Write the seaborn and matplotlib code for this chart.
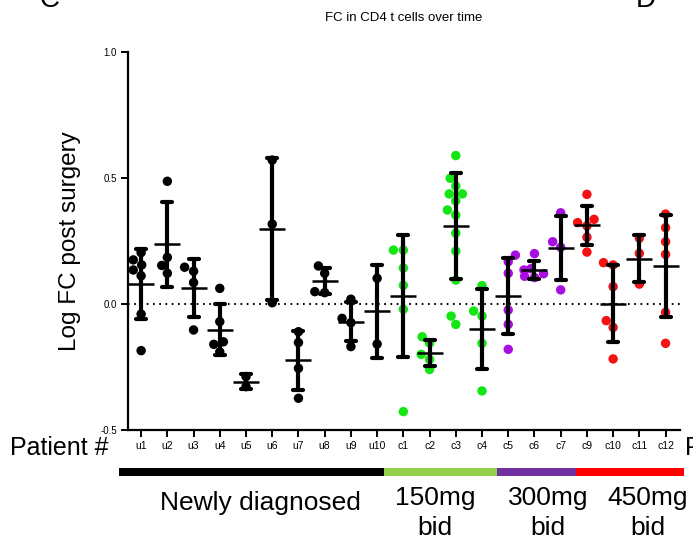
import matplotlib
matplotlib.use("Agg")
import matplotlib.pyplot as plt
from matplotlib.patches import Rectangle
import numpy as np
import pandas as pd
import seaborn as sns

# ---------------- data ----------------
patients = ["u1", "u2", "u3", "u4", "u5", "u6", "u7", "u8", "u9", "u10",
            "c1", "c2", "c3", "c4", "c5", "c6", "c7", "c9", "c10", "c11", "c12"]

newly_diagnosed_fc = [
    [0.204, 0.175, 0.155, 0.135, 0.112, -0.040, -0.185],   # u1
    [0.487, 0.185, 0.153, 0.122],                          # u2
    [0.146, 0.130, 0.085, -0.103],                         # u3
    [0.062, -0.070, -0.150, -0.160, -0.190],               # u4
    [-0.288, -0.328],                                      # u5
    [0.571, 0.317, 0.005],                                 # u6
    [-0.110, -0.153, -0.255, -0.374],                      # u7
    [0.151, 0.122, 0.045, 0.049],                          # u8
    [0.019, -0.057, -0.074, -0.169],                       # u9
    [0.102, -0.159],                                       # u10
]
bid150_fc = [
    [0.214, 0.214, 0.143, 0.074, -0.021, -0.427],          # c1
    [-0.130, -0.155, -0.200, -0.220, -0.260],              # c2
    [0.589, 0.499, 0.468, 0.437, 0.437, 0.409, 0.373,
     0.353, 0.281, 0.210, 0.095, -0.048, -0.081],          # c3
    [0.073, -0.028, -0.048, -0.156, -0.345],               # c4
]
bid300_fc = [
    [0.194, 0.168, 0.122, -0.024, -0.081, -0.180],         # c5
    [0.200, 0.140, 0.135, 0.120, 0.110, 0.105],            # c6
    [0.362, 0.247, 0.225, 0.056],                          # c7
]
bid450_fc = [
    [0.435, 0.336, 0.323, 0.310, 0.265, 0.206],            # c9
    [0.164, 0.155, 0.069, -0.066, -0.093, -0.218],         # c10
    [0.261, 0.201, 0.079],                                 # c11
    [0.357, 0.303, 0.247, 0.197, -0.033, -0.156],          # c12
]

group_names = ["Newly diagnosed", "150mg\nbid", "300mg\nbid", "450mg\nbid"]
point_colors = ["#000000", "#14e614", "#a80ee0", "#f51212"]
bar_colors = ["#000000", "#92d050", "#7030a0", "#ff0000"]
y_ticks = [-0.5, 0.0, 0.5, 1.0]
y_ticklabels = ["-0.5", "0.0", "0.5", "1.0"]

# ---------------- tidy frame ----------------
rows = []
all_groups = [newly_diagnosed_fc, bid150_fc, bid300_fc, bid450_fc]
i = 0
for gname, glist in zip(group_names, all_groups):
    for vals in glist:
        for v in vals:
            rows.append({"patient": patients[i], "fc": v, "group": gname})
        i += 1
df = pd.DataFrame(rows)
palette = dict(zip(group_names, point_colors))

# ---------------- figure ----------------
sns.set_theme(style="ticks")
plt.rcParams["font.family"] = ["Liberation Sans", "DejaVu Sans"]
plt.rcParams["text.color"] = "black"
plt.rcParams["axes.labelcolor"] = "black"
plt.rcParams["xtick.color"] = "black"
plt.rcParams["ytick.color"] = "black"

W, H = 693, 549
fig = plt.figure(figsize=(W / 100, H / 100), dpi=100)
ax = fig.add_axes([128 / W, 1 - 430 / H, (680 - 128) / W, (430 - 52) / H])

ax.axhline(0, color="black", lw=1.5, ls=(0, (0.8, 2.2)), zorder=0)

sns.swarmplot(data=df, x="patient", y="fc", hue="group", palette=palette,
              order=patients, size=6.8, ax=ax, legend=False, zorder=2,
              linewidth=0, warn_thresh=1)
sns.pointplot(data=df, x="patient", y="fc", order=patients, errorbar="sd",
              capsize=0.38, linestyle="none", marker="_", markersize=19,
              markeredgewidth=1.8, color="black",
              err_kws={"linewidth": 3.0}, ax=ax)
for c in ax.collections:
    c.set_zorder(2)
for l in ax.lines:
    l.set_zorder(3)

ax.set_xlim(-0.5, 20.55)
ax.set_ylim(-0.5, 1.0)
ax.set_yticks(y_ticks)
ax.set_yticklabels(y_ticklabels)
ax.set_xlabel("")
ax.set_ylabel("Log FC post surgery", fontsize=17.5, labelpad=14, color="black")
sns.despine(ax=ax)
for s in ["left", "bottom"]:
    ax.spines[s].set_linewidth(1.6)
    ax.spines[s].set_color("black")
ax.tick_params(axis="both", length=5, width=1.4, colors="black",
               labelsize=7, pad=3)
ax.tick_params(axis="x", labelsize=7.5)
ax.set_title("FC in CD4 t cells over time", fontsize=9.5, pad=22, color="black")

# group bar below the axis
segs = [(119, 384), (384, 496.6), (496.6, 576), (576, 684)]
for (x0, x1), col in zip(segs, bar_colors):
    fig.add_artist(Rectangle((x0 / W, 1 - 476 / H), (x1 - x0) / W, 8 / H,
                             transform=fig.transFigure, color=col, lw=0))

label_x = [260, 435, 548, 648]
for name, lx in zip(group_names, label_x):
    if "\n" in name:
        fig.text(lx / W, 1 - 513 / H, name, ha="center", va="center",
                 fontsize=19, linespacing=1.3, color="black")
    else:
        fig.text(lx / W, 1 - 503 / H, name, ha="center", va="center",
                 fontsize=19, color="black")

fig.text(10 / W, 1 - 448 / H, "Patient #", ha="left", va="center", fontsize=18)
fig.text(685 / W, 1 - 448 / H, "Patient #", ha="left", va="center", fontsize=18)
fig.text(40 / W, 1 - 0 / H, "C", ha="left", va="center", fontsize=20)
fig.text(636 / W, 1 - 0 / H, "D", ha="left", va="center", fontsize=20)

fig.savefig("out.png", dpi=100)
